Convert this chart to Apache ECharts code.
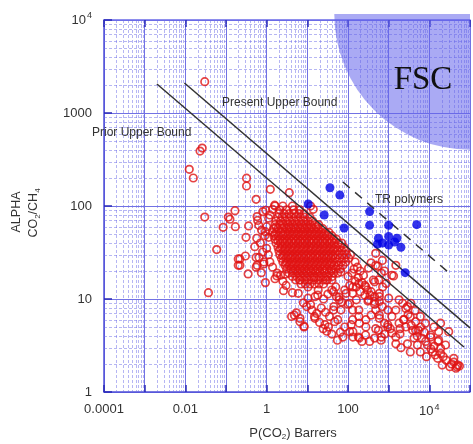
<!DOCTYPE html>
<html>
<head>
<meta charset="utf-8">
<script src="https://cdn.jsdelivr.net/npm/echarts@6/dist/echarts.min.js"></script>
<style>
html, body { margin: 0; padding: 0; background: #fff; }
#chart { width: 473px; height: 444px; }
</style>
</head>
<body>
<div id="chart"></div>
<script>
// upper bound lines
var priorBound = [[0.002, 2050], [71000, 3.05]];
var presentBound = [[0.0095, 2100], [100000, 4.9]];
var trBound = [[75, 181], [31000, 19]];
// FSC zone: centre x, centre y, left edge x
var fscRegion = [100000, 11600, 46];

// TR polymers (filled blue)
var bluePoints = [
    [10.5, 105], [36, 157], [63, 131], [26, 80], [80, 58], [340, 87], [340, 62],
    [1000, 62], [4900, 63], [560, 45], [1000, 47], [1600, 45], [700, 40],
    [1000, 38], [2000, 36], [530, 39], [1400, 41], [2550, 19.2]
];

// open red circles, scattered ones
var redScatter = [
    [0.03, 2170], [0.023, 390], [0.026, 420], [0.0125, 248], [0.0157, 200], [0.03, 76],
    [0.114, 76], [0.166, 89], [0.085, 59], [0.17, 60], [0.059, 34], [0.2, 27], [0.2, 23], [0.037, 11.7],
    [0.32, 199], [0.32, 164], [1.23, 151], [3.6, 139], [0.55, 118], [0.125, 72], [0.36, 61], [0.58, 77],
    [0.81, 87], [1.57, 102], [1.4, 92], [1.12, 74], [0.64, 62], [0.31, 46], [0.57, 45], [0.51, 36.5],
    [0.22, 27], [0.3, 29], [0.22, 23], [0.55, 28], [0.58, 23], [0.85, 25], [1.12, 46], [0.93, 53],
    [0.35, 18.6], [0.55, 22], [0.74, 19.2], [0.93, 15], [0.85, 23.8], [1.78, 17.7], [2.86, 18.5],
    [2.6, 12.3], [4.3, 11.7], [6, 11.5], [8, 9.1], [10.4, 10.2], [4.8, 6.7], [6.6, 5.7], [8.3, 5.1],
    [15.4, 6.2], [9.6, 8.3], [13, 7.6], [15.4, 10.6], [10.4, 13.5], [6.5, 16],
    [1320, 17.7], [570, 16], [710, 13.5], [450, 10.6], [590, 9.4], [950, 7.6], [2640, 7.9], [3400, 6.45],
    [2320, 6], [4600, 5.7], [2640, 5], [4600, 4.6], [6100, 5], [13000, 5], [18900, 5.5], [30000, 4.45],
    [17000, 4.45], [10800, 3.9], [16200, 3.5], [25000, 3.2], [8100, 3.5], [5100, 3.2], [4200, 3.8],
    [2900, 3.3], [1500, 3.3], [1500, 3.9], [1900, 4.2], [40000, 2.3], [50000, 1.95], [32000, 1.87],
    [20700, 1.95], [8500, 2.4], [12000, 2.7], [19000, 2.95], [48000, 1.87], [40000, 2.1], [3400, 2.7],
    [6000, 2.7], [19000, 2.6], [13000, 3.1], [17000, 3.6], [10800, 4.1], [3900, 4.6], [5400, 4.6],
    [1900, 4.8], [2900, 8.3], [2400, 6], [1200, 6.5], [1100, 4.8], [790, 5.5], [590, 6.2], [700, 8.3],
    [480, 7.6], [1000, 10.2], [1800, 9.8], [1500, 7.6], [450, 9.4], [590, 11.5], [370, 12], [320, 9.8],
    [275, 13.5], [450, 15.3], [660, 19], [540, 22.5], [370, 24.5], [700, 26], [480, 31],
    [4.1, 6.5], [6.6, 6.2], [8.3, 5], [5.4, 7.1], [24.5, 4.8], [33, 5], [27, 5.3], [75, 3.9], [132, 3.9],
    [190, 3.8], [220, 3.5], [340, 3.5], [450, 3.8], [270, 4.1], [83, 5], [120, 5.3], [56, 6], [44, 7.6],
    [61, 9.8], [100, 8.8], [130, 7.6], [185, 6.5], [275, 6], [190, 5.5], [130, 6],
    [47, 5.7], [110, 4.45], [180, 3.9], [660, 3.9], [950, 5.3], [15, 6.5], [132, 4.45], [950, 5],
    [1800, 5.5], [275, 5], [480, 4.8], [370, 6.7], [185, 7.6], [160, 9.8], [450, 8.8], [590, 6.7],
    [67, 7.6], [52, 10.6], [44, 12], [83, 12.5], [132, 13.5], [185, 14.7], [420, 16], [590, 10.6],
    [870, 14.7], [1200, 18], [790, 20], [1500, 23], [18.5, 12.5], [14.5, 17], [29, 16], [39, 20],
    [67, 19.5], [100, 17.5], [320, 21.5], [480, 23],
    [150, 25], [170, 22], [200, 20], [240, 18], [180, 17], [220, 15], [150, 15.5], [260, 14], [300, 12.5],
    [350, 11], [260, 11], [310, 9.5], [200, 12], [160, 13.5], [130, 11.5], [110, 14], [125, 19], [140, 21],
    [12, 100], [14, 92],
    [0.6, 70], [0.75, 55], [0.9, 48], [0.7, 40], [1.0, 35], [1.1, 30], [0.8, 32], [1.2, 25], [1.4, 22],
    [1.8, 19], [2.2, 18], [1.6, 16.5], [2.5, 15.5], [3, 14], [0.65, 28], [1.0, 60], [1.2, 80], [0.95, 90],
    [2200, 9], [3000, 6.8], [3600, 5.2], [5000, 4], [6500, 3.8], [7500, 4.4], [9000, 3.2], [11000, 2.9],
    [14000, 2.5], [16000, 2.3], [22000, 2.4], [26000, 2.2], [35000, 2], [45000, 1.8], [55000, 1.9],
    [2000, 3], [1200, 4.3], [800, 4.2], [650, 3.6], [560, 4.6], [8000, 5.5], [6000, 6.5], [4500, 7.5],
    [3500, 9],
    [40, 4.2], [55, 3.6], [30, 4.5], [65, 4.4], [20, 5.6], [17, 7], [12, 8.7], [22, 8], [28, 7.2],
    [35, 6.5], [45, 8.3], [18, 11], [25, 10], [32, 11.3], [40, 12.5], [50, 13.5], [60, 10.5], [70, 9.3],
    [90, 11.5], [110, 9]
];

// the dense core, row by row: [alpha, [P values]]
var clusterRows = [
    [100, [1.6, 2.5, 4.3]],
    [91, [2.1, 3.1, 4.6, 6.5]],
    [83, [2.0, 2.7, 3.6, 4.8, 6.2, 8.2]],
    [76, [1.9, 2.4, 3.1, 4.0, 5.2, 6.7, 8.6, 11.5]],
    [69, [1.7, 2.2, 2.9, 3.7, 4.8, 6.2, 8.0, 10.3, 13.5]],
    [63, [1.6, 2.1, 2.6, 3.4, 4.4, 5.6, 7.2, 9.3, 12, 15.5, 19]],
    [59.5, [1.7, 2.7, 3.5, 4.6, 5.9, 7.6, 9.8, 12.6, 16.5]],
    [57, [1.5, 1.9, 2.4, 3.1, 4.0, 5.2, 6.7, 8.6, 11, 14.3, 18.5, 24]],
    [52, [1.4, 1.75, 2.25, 2.9, 3.7, 4.8, 6.2, 8.0, 10.3, 13, 17, 22, 28, 34]],
    [50, [1.6, 2.6, 3.4, 4.4, 5.7, 7.3, 9.4, 12, 15.5, 20, 25.5]],
    [48, [1.5, 1.95, 2.5, 3.2, 4.1, 5.3, 6.8, 8.8, 11.3, 14.5, 19, 24, 31, 40]],
    [44, [1.6, 2.1, 2.7, 3.5, 4.5, 5.8, 7.4, 9.6, 12.4, 16, 20.5, 26.5, 34, 44, 52]],
    [42, [1.9, 2.5, 3.2, 4.1, 5.3, 6.8, 8.8, 11.3, 14.5, 18.5, 24, 31, 40]],
    [40, [1.7, 2.2, 2.8, 3.6, 4.6, 6.0, 7.7, 9.9, 12.8, 16.5, 21, 27, 35, 45, 58, 70]],
    [36, [1.9, 2.4, 3.1, 4.0, 5.1, 6.6, 8.5, 11, 14, 18, 23.5, 30, 39, 50, 64, 80]],
    [34.5, [2.2, 2.85, 3.7, 4.7, 6.1, 7.9, 10.2, 13, 16.8, 21.5, 28, 36, 46]],
    [33, [2.0, 2.6, 3.4, 4.3, 5.6, 7.2, 9.3, 12, 15.5, 20, 25.5, 33, 42.5, 55, 70, 88]],
    [30, [2.1, 2.7, 3.5, 4.5, 5.8, 7.5, 9.6, 12.4, 16, 20.5, 26.5, 34, 44, 56, 72, 92, 115]],
    [28.8, [2.5, 3.3, 4.2, 5.5, 7.1, 9.1, 11.8, 15.2, 19.6, 25.3, 32.5, 42]],
    [27.5, [2.3, 3.0, 3.9, 5.0, 6.4, 8.3, 10.7, 13.8, 17.7, 23, 29.5, 38, 49, 63, 81, 104]],
    [25, [2.5, 3.2, 4.2, 5.4, 7.0, 9.0, 11.6, 15, 19.3, 25, 32, 41, 53, 68, 88]],
    [24, [3.0, 3.9, 5.0, 6.5, 8.4, 10.8, 14, 18, 23.2, 30, 38.5]],
    [23, [2.8, 3.6, 4.6, 6.0, 7.7, 10, 12.8, 16.5, 21, 27, 35, 45, 58, 75]],
    [21, [3.1, 4.0, 5.1, 6.6, 8.5, 11, 14, 18, 23.5, 30, 39, 50, 64]],
    [20, [4.4, 5.6, 7.2, 9.3, 12, 15.5, 20, 26]],
    [19, [3.5, 4.5, 5.8, 7.5, 9.6, 12.4, 16, 20.5, 26.5, 34, 44, 56]],
    [17.5, [4.3, 5.5, 7.0, 9.0, 11.6, 15, 19.3, 25, 32, 41]],
    [16, [5.2, 6.7, 8.6, 11, 14.3, 18.5, 24, 31, 40]],
    [14.5, [7.0, 9.0, 11.6, 15, 19.3, 25]]
];

var redCluster = [];
clusterRows.forEach(function (row) {
    row[1].forEach(function (p) { redCluster.push([p, row[0]]); });
});

// minor grid at 2..9 of each decade
var minorSteps = [2, 3, 4, 5, 6, 7, 8, 9];
function minorValues(e0, e1) {
    var out = [];
    for (var e = e0; e < e1; e++) {
        minorSteps.forEach(function (m) { out.push(m * Math.pow(10, e)); });
    }
    return out;
}
var xMinor = minorValues(-4, 5);
var yMinor = minorValues(0, 4);

var gridBlue = '#7272e4';
var minorBlue = 'rgba(110,110,232,0.5)';
var font = '"Liberation Sans", Arial, sans-serif';

function fmtExp(v) {
    var e = Math.round(Math.log(v) / Math.LN10);
    if (e >= 4) return '10{sup|' + e + '}';
    if (e < 0) return (1 / Math.pow(10, -e)).toFixed(-e);
    return String(Math.pow(10, e));
}

var myChart = echarts.init(document.getElementById('chart'));

var option = {
    animation: false,
    textStyle: { fontFamily: font },
    grid: { left: 104, top: 20, right: 0, bottom: 52, containLabel: false },
    xAxis: [{
        type: 'log', logBase: 10, min: 0.0001, max: 100000, interval: 1,
        axisLine: { lineStyle: { color: '#4f4fd8', width: 1.5 } },
        axisTick: { inside: true, length: 7, lineStyle: { color: '#2b2bb8', width: 1.5 } },
        axisLabel: {
            color: '#333', fontSize: 13, margin: 11,
            formatter: function (v) {
                var e = Math.round(Math.log(v) / Math.LN10);
                return (e % 2 === 0) ? fmtExp(v) : '';
            },
            rich: { sup: { fontSize: 9, padding: [0, 0, 8, 1] } }
        },
        splitLine: { show: true, lineStyle: { color: gridBlue, width: 1 } }
    }, {
        type: 'log', logBase: 10, min: 0.0001, max: 100000, interval: 1, position: 'top',
        axisLine: { lineStyle: { color: '#6a6ae8', width: 1.5 } },
        axisTick: { inside: true, length: 7, lineStyle: { color: '#2b2bb8', width: 1.5 } },
        axisLabel: { show: false },
        splitLine: { show: false }
    }],
    yAxis: {
        type: 'log', logBase: 10, min: 1, max: 10000, interval: 1,
        axisLine: { lineStyle: { color: '#4f4fd8', width: 1.5 } },
        axisTick: { inside: true, length: 8, lineStyle: { color: '#2b2bb8', width: 1.5 } },
        axisLabel: {
            color: '#333', fontSize: 13, margin: 12,
            formatter: fmtExp,
            rich: { sup: { fontSize: 9, padding: [0, 0, 8, 1] } }
        },
        splitLine: { show: true, lineStyle: { color: gridBlue, width: 1 } }
    },
    graphic: [
        { type: 'text', x: 17, y: 212, rotation: Math.PI / 2,
          style: { text: 'ALPHA', font: '12.5px ' + font, fill: '#333', align: 'center', verticalAlign: 'middle', textAlign: 'center', textVerticalAlign: 'middle' } },
        { type: 'text', x: 34, y: 213, rotation: Math.PI / 2,
          style: { text: 'CO{sub|2}/CH{sub|4}', font: '12.5px ' + font, fill: '#333', align: 'center', verticalAlign: 'middle', textAlign: 'center', textVerticalAlign: 'middle',
                   rich: { sub: { fontSize: 8, fill: '#333', padding: [8, 0, 0, 0] } } } },
        { type: 'text', x: 293, y: 433,
          style: { text: 'P(CO{sub|2}) Barrers', font: '13px ' + font, fill: '#333', align: 'center', verticalAlign: 'middle', textAlign: 'center', textVerticalAlign: 'middle',
                   rich: { sub: { fontSize: 8, fill: '#333', padding: [8, 0, 0, 0] } } } },
        { type: 'text', x: 222, y: 103, z: 10,
          style: { text: 'Present Upper Bound', font: '12px ' + font, fill: '#333', textVerticalAlign: 'middle', verticalAlign: 'middle' } },
        { type: 'text', x: 92, y: 133, z: 10,
          style: { text: 'Prior Upper Bound', font: '12px ' + font, fill: '#333', textVerticalAlign: 'middle', verticalAlign: 'middle' } },
        { type: 'text', x: 375, y: 200, z: 10,
          style: { text: 'TR polymers', font: '12px ' + font, fill: '#333', textVerticalAlign: 'middle', verticalAlign: 'middle' } },
        { type: 'text', x: 423, y: 80, z: 10,
          style: { text: 'FSC', font: '33px "Liberation Serif", "DejaVu Serif", serif', fill: '#111', textAlign: 'center', align: 'center', textVerticalAlign: 'middle', verticalAlign: 'middle' } }
    ],
    series: [
        {
            type: 'custom', silent: true,
            data: xMinor.map(function (v) { return [v, 1]; }),
            renderItem: function (params, api) {
                var p = api.coord([api.value(0), api.value(1)]);
                var cs = params.coordSys;
                var x = Math.round(p[0]) + 0.5;
                return { type: 'line', shape: { x1: x, y1: cs.y, x2: x, y2: cs.y + cs.height },
                         style: { stroke: minorBlue, lineWidth: 1, lineDash: [3, 2] } };
            }
        },
        {
            type: 'custom', silent: true,
            data: yMinor.map(function (v) { return [1, v]; }),
            renderItem: function (params, api) {
                var p = api.coord([api.value(0), api.value(1)]);
                var cs = params.coordSys;
                var y = Math.round(p[1]) + 0.5;
                return { type: 'line', shape: { x1: cs.x, y1: y, x2: cs.x + cs.width, y2: y },
                         style: { stroke: minorBlue, lineWidth: 1, lineDash: [3, 2] } };
            }
        },
        {
            type: 'custom', silent: true, clip: false,
            dimensions: ['x', 'y', 'edge'],
            encode: { x: 0, y: 1 },
            data: [fscRegion],
            renderItem: function (params, api) {
                var c = api.coord([api.value(0), api.value(1)]);
                var e = api.coord([api.value(2), api.value(1)]);
                return {
                    type: 'sector',
                    shape: { cx: c[0], cy: c[1], r: c[0] - e[0], r0: 0, startAngle: Math.PI / 2, endAngle: Math.PI, clockwise: true },
                    style: { fill: 'rgba(100,100,235,0.55)' }
                };
            }
        },
        {
            name: 'Polymers', type: 'scatter', symbol: 'circle', symbolSize: 7.5,
            data: redScatter.concat(redCluster),
            itemStyle: { color: 'rgba(255,255,255,0)', borderColor: '#e01414', borderWidth: 1.7 }
        },
        {
            name: 'Prior Upper Bound', type: 'line', symbol: 'none', data: priorBound, z: 4,
            lineStyle: { color: '#333', width: 1.5 }
        },
        {
            name: 'Present Upper Bound', type: 'line', symbol: 'none', data: presentBound, z: 4,
            lineStyle: { color: '#333', width: 1.5 }
        },
        {
            name: 'TR bound', type: 'line', symbol: 'none', data: trBound, z: 4,
            lineStyle: { color: '#333', width: 1.5, type: [9, 7] }
        },
        {
            name: 'TR polymers', type: 'scatter', symbol: 'circle', symbolSize: 9, z: 5,
            data: bluePoints,
            itemStyle: { color: '#0000e6' }
        }
    ]
};
myChart.setOption(option);
</script>
</body>
</html>
